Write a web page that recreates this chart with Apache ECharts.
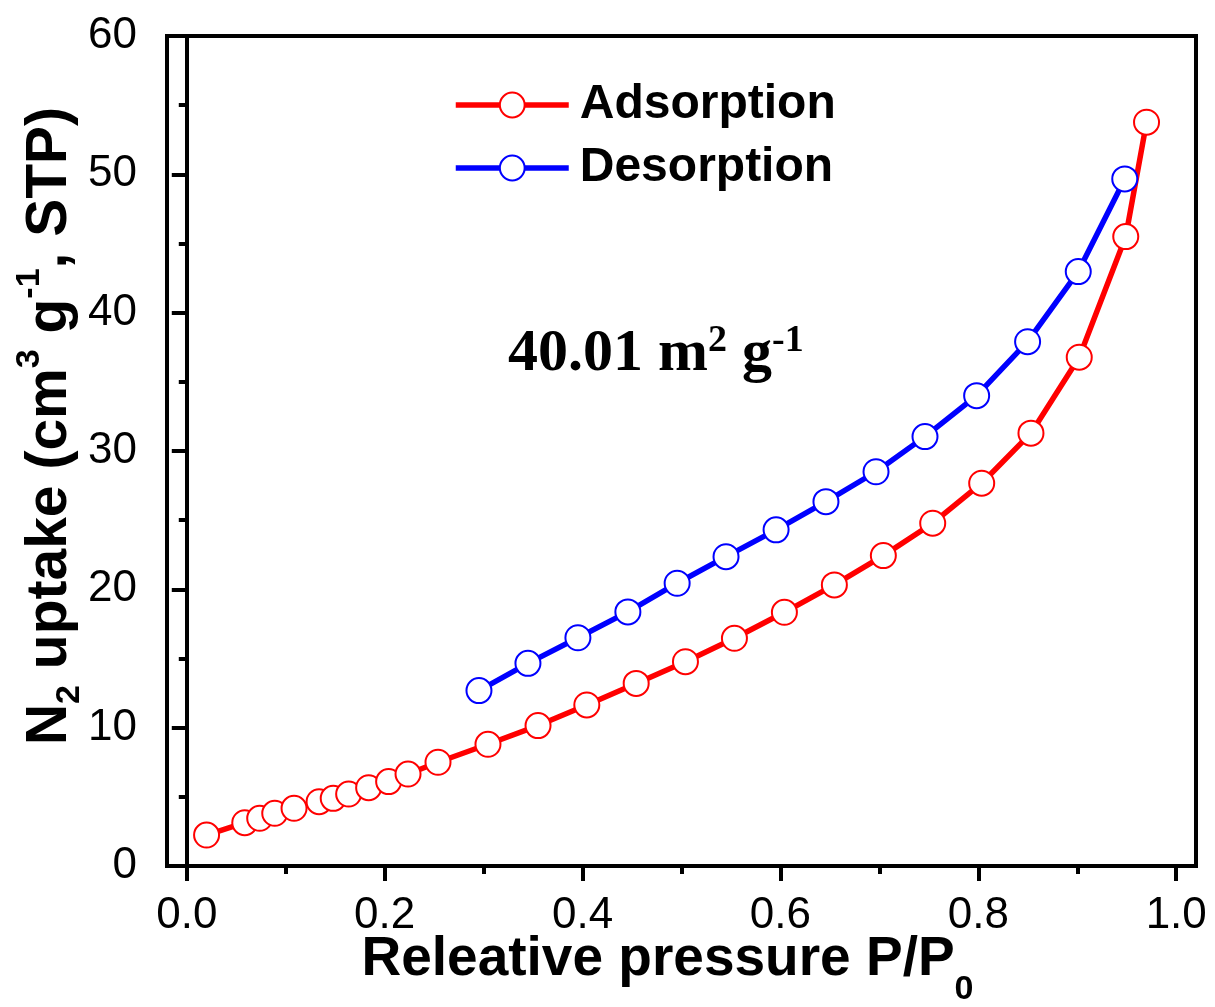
<!DOCTYPE html>
<html><head><meta charset="utf-8">
<script src="https://cdn.jsdelivr.net/npm/echarts@6/dist/echarts.min.js"></script>
<style>html,body{margin:0;padding:0;background:#fff}#c{width:1215px;height:1007px}</style>
</head><body><div id="c"></div>
<script>
const adsP = [0.020, 0.0586, 0.0737, 0.0889, 0.1084, 0.1337, 0.148, 0.1636, 0.1838, 0.204, 0.2236, 0.2539, 0.3044, 0.355, 0.4043, 0.4542, 0.504, 0.5535, 0.604, 0.6545, 0.704, 0.7539, 0.8034, 0.8532, 0.902, 0.949, 0.970];
const adsV = [2.24, 3.13, 3.45, 3.81, 4.17, 4.65, 4.89, 5.2, 5.66, 6.1, 6.65, 7.5, 8.8, 10.15, 11.64, 13.2, 14.77, 16.46, 18.34, 20.32, 22.44, 24.78, 27.67, 31.29, 36.78, 45.5, 53.77];
const desP = [0.2953, 0.3448, 0.3953, 0.4458, 0.4956, 0.545, 0.5956, 0.646, 0.6966, 0.7461, 0.7983, 0.8498, 0.901, 0.948];
const desV = [12.68, 14.65, 16.5, 18.37, 20.44, 22.36, 24.3, 26.34, 28.5, 31.04, 34.0, 37.9, 42.97, 49.67];
const xMajorTicks = [0.0, 0.2, 0.4, 0.6, 0.8, 1.0];
const xMinorTicks = [0.1, 0.3, 0.5, 0.7, 0.9];
const seriesNames = ['Adsorption', 'Desorption'];
const annotation = '40.01';

const SANS = 'Liberation Sans, Arial, sans-serif';
const SERIF = 'Liberation Serif, Times New Roman, serif';
const pairs = (xs, ys) => xs.map((x, i) => [x, ys[i]]);

const chart = echarts.init(document.getElementById('c'), null, {renderer: 'canvas'});
const mkSeries = (name, data, color) => ({
  name, type: 'line', data, xAxisIndex: 0,
  symbol: 'circle', symbolSize: 25,
  lineStyle: {color, width: 5.5},
  itemStyle: {color: '#fff', borderColor: color, borderWidth: 2},
  emphasis: {disabled: true}, animation: false
});
chart.setOption({
  animation: false,
  grid: {left: 167, right: 19, top: 36, bottom: 141, outerBoundsMode: 'none', containLabel: false, show: true, borderColor: '#000', borderWidth: 4, backgroundColor: 'transparent'},
  legend: {
    orient: 'vertical', left: 453, top: 81, padding: 0, itemWidth: 113, itemHeight: 31, itemGap: 15,
    data: seriesNames,
    lineStyle: {width: 5.5},
    textStyle: {fontSize: 48, fontWeight: 'bold', color: '#000', fontFamily: SANS, padding: [0, 0, 0, 6]}
  },
  xAxis: [{
    type: 'value', min: -0.02, max: 1.02, position: 'bottom',
    axisLine: {show: true, onZero: false, lineStyle: {color: '#000', width: 4}},
    axisTick: {show: true, customValues: xMajorTicks, length: 15, lineStyle: {color: '#000', width: 4}},
    axisLabel: {customValues: xMajorTicks, formatter: v => v.toFixed(1), fontSize: 44, color: '#000', fontFamily: SANS, margin: 28},
    splitLine: {show: false},
    name: '{a|Releative pressure P/P}{sub|0}', nameLocation: 'middle', nameGap: 47, nameMoveOverlap: false,
    nameTextStyle: {
      padding: [0, 28, 0, 0],
      rich: {
        a: {fontSize: 55, fontWeight: 'bold', color: '#000', fontFamily: SANS},
        sub: {fontSize: 34, fontWeight: 'bold', color: '#000', fontFamily: SANS, padding: [60, 0, 0, 0]}
      }
    }
  }, {
    type: 'value', min: -0.02, max: 1.02, position: 'bottom',
    axisLine: {show: false, onZero: false},
    axisTick: {show: true, customValues: xMinorTicks, length: 8, lineStyle: {color: '#000', width: 4}},
    axisLabel: {show: false},
    splitLine: {show: false}
  }],
  yAxis: {
    type: 'value', min: 0, max: 60, interval: 10,
    axisLine: {show: true, lineStyle: {color: '#000', width: 4}},
    axisTick: {show: true, length: 15, lineStyle: {color: '#000', width: 4}},
    minorTick: {show: true, splitNumber: 2, length: 8, lineStyle: {color: '#000', width: 4}},
    axisLabel: {fontSize: 44, color: '#000', fontFamily: SANS, margin: 30},
    splitLine: {show: false},
    name: '{a|N}{sub|2}{a| uptake (cm}{sup|3}{a| g}{sup|-1}{a|, STP)}',
    nameLocation: 'middle', nameGap: 80, nameRotate: 90, nameMoveOverlap: false,
    nameTextStyle: {
      padding: [0, 0, 0, 50],
      rich: {
        a: {fontSize: 57, fontWeight: 'bold', color: '#000', fontFamily: SANS},
        sub: {fontSize: 34, fontWeight: 'bold', color: '#000', fontFamily: SANS, padding: [40, 0, 0, 0]},
        sup: {fontSize: 34, fontWeight: 'bold', color: '#000', fontFamily: SANS, padding: [0, 0, 40, 0]}
      }
    }
  },
  graphic: [{
    type: 'text', left: 508, top: 322,
    style: {
      text: '{a|' + annotation + ' m}{s|2}{a| g}{s|-1}',
      rich: {
        a: {fontSize: 60, fontWeight: 'bold', fill: '#000', fontFamily: SERIF},
        s: {fontSize: 38, fontWeight: 'bold', fill: '#000', fontFamily: SERIF, padding: [0, 0, 26, 0]}
      }
    }
  }],
  series: [
    mkSeries(seriesNames[0], pairs(adsP, adsV), '#ff0000'),
    mkSeries(seriesNames[1], pairs(desP, desV), '#0000ff')
  ]
});
</script></body></html>
